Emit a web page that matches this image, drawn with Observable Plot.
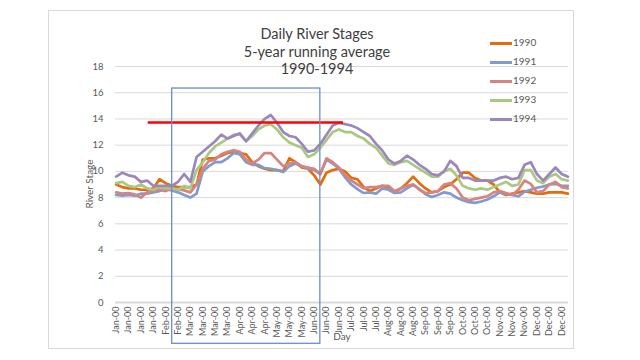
<!DOCTYPE html>
<html>
<head>
<meta charset="utf-8">
<script src="https://cdn.jsdelivr.net/npm/d3@7"></script>
<script src="https://cdn.jsdelivr.net/npm/@observablehq/plot@0.6"></script>
<style>
  html, body { margin: 0; padding: 0; background: #fff; }
  #wrap { position: relative; width: 640px; height: 360px; background: #fff; font-family: Lato, "Open Sans", sans-serif; color: #595959; }
  #border { position: absolute; left: 48px; top: 10px; width: 526px; height: 339px; border: 1px solid #d9d9d9; box-sizing: border-box; }
  #chart { position: absolute; left: 0; top: 0; }
  #title { position: absolute; left: 217px; top: 25px; width: 200px; text-align: center; font-size: 14.5px; line-height: 17.5px; color: #404040; }
  #legend { position: absolute; left: 490px; top: 34px; font-size: 10px; color: #595959; }
  .item { position: relative; height: 19px; }
  .sw { position: absolute; left: 0; top: 8px; width: 22px; height: 2.6px; }
  .lab { position: absolute; left: 23px; top: 2px; line-height: 12px; }
  #ytitle { position: absolute; left: 89px; top: 184px; transform: translate(-50%, -50%) rotate(-90deg); font-size: 10px; white-space: nowrap; }
  #xtitle { position: absolute; left: 342px; top: 336px; transform: translate(-50%, -50%); font-size: 10px; }
</style>
</head>
<body>
<div id="wrap">
  <div id="border"></div>
  <div id="chart"></div>
  <div id="title">Daily River Stages<br>5-year running average<br>1990-1994</div>
  <div id="legend"></div>
  <div id="ytitle">River Stage</div>
  <div id="xtitle">Day</div>
</div>
<script>
// ---- data ----
const days = [1,6,11,16,21,26,31,36,41,46,51,56,61,66,71,76,81,86,91,96,101,106,111,116,121,126,131,136,141,146,151,156,161,166,171,176,181,186,191,196,201,206,211,216,221,226,231,236,241,246,251,256,261,266,271,276,281,286,291,296,301,306,311,316,321,326,331,336,341,346,351,356,361,366];

const y1990 = [9.0,8.8,8.7,8.7,8.6,8.6,8.7,9.4,9.1,8.9,8.8,8.8,8.8,9.0,10.9,11.0,11.0,11.2,11.4,11.5,11.4,11.3,10.7,10.4,10.2,10.1,10.1,10.0,11.0,10.7,10.3,10.2,9.7,9.0,9.9,10.1,10.2,10.0,9.5,9.4,8.8,8.5,8.7,8.9,8.8,8.4,8.7,9.1,9.6,9.1,8.7,8.4,8.5,8.8,9.0,9.4,9.9,9.9,9.5,9.3,9.3,9.0,8.4,8.2,8.3,8.4,8.5,8.4,8.3,8.3,8.4,8.4,8.4,8.3];
const y1991 = [8.2,8.15,8.2,8.15,8.3,8.3,8.4,8.5,8.65,8.55,8.4,8.2,8.0,8.3,10.0,10.4,10.7,10.7,11.0,11.4,11.3,10.7,10.5,10.5,10.25,10.2,10.1,9.95,10.4,10.6,10.4,10.2,10.1,9.8,10.9,10.6,10.2,9.55,9.0,8.65,8.35,8.4,8.3,8.7,8.6,8.35,8.4,8.7,9.0,8.65,8.25,8.05,8.2,8.4,8.3,8.0,7.8,7.65,7.6,7.7,7.85,8.1,8.4,8.3,8.2,8.1,8.45,8.6,8.75,8.85,9.0,9.05,8.9,8.9];
const y1992 = [8.4,8.3,8.35,8.25,8.0,8.4,8.55,8.6,8.5,8.7,8.65,8.55,8.4,9.0,10.2,10.8,10.9,11.3,11.5,11.6,11.5,10.9,10.6,10.9,11.4,11.4,10.9,10.4,10.6,10.7,10.4,10.3,10.2,9.8,11.0,10.7,10.3,9.7,9.3,9.0,8.7,8.8,8.8,8.9,8.9,8.5,8.7,8.9,9.0,8.6,8.35,8.4,8.5,9.0,9.1,8.7,8.0,7.8,7.9,8.0,8.1,8.4,8.5,8.35,8.2,8.6,9.3,9.05,8.4,8.5,9.0,9.2,8.8,8.7];
const y1993 = [9.1,9.2,8.9,8.8,9.0,8.7,8.6,8.8,8.7,8.7,8.6,8.9,8.7,10.1,10.7,11.4,11.9,12.2,12.5,12.8,12.8,12.3,12.7,13.2,13.5,13.6,13.2,12.6,12.2,12.0,11.8,11.1,11.3,11.8,12.4,13.0,13.2,13.0,13.0,12.7,12.5,12.1,11.8,11.2,10.6,10.5,10.7,10.8,10.5,10.2,9.9,9.6,9.6,10.0,10.2,9.7,8.9,8.7,8.6,8.7,8.6,8.8,9.0,9.2,8.9,9.0,10.1,10.1,9.3,9.1,9.6,9.8,9.4,9.3];
const y1994 = [9.6,9.9,9.7,9.6,9.2,9.3,8.9,8.9,8.9,8.9,9.2,9.8,9.2,11.1,11.5,11.9,12.3,12.8,12.5,12.7,12.9,12.3,12.9,13.5,14.0,14.3,13.7,13.0,12.7,12.6,12.1,11.5,11.6,12.1,12.8,13.5,13.7,13.6,13.5,13.3,13.0,12.7,12.1,11.6,10.9,10.6,10.8,11.2,10.9,10.5,10.2,9.8,9.7,10.0,10.8,10.4,9.5,9.5,9.3,9.3,9.3,9.3,9.5,9.6,9.4,9.5,10.5,10.7,9.8,9.3,9.8,10.3,9.8,9.6];

const seriesNames = ["1990", "1991", "1992", "1993", "1994"];
const seriesValues = [y1990, y1991, y1992, y1993, y1994];
const seriesColors = ["#E46C0A", "#7F9BD0", "#D8837F", "#A9C882", "#9C87BC"];

const yTicks = [0, 2, 4, 6, 8, 10, 12, 14, 16, 18];
const xTickDays = [1,11,21,31,41,51,61,71,81,91,101,111,121,131,141,151,161,171,181,191,201,211,221,231,241,251,261,271,281,291,301,311,321,331,341,351,361];
const xTickLabels = ["Jan-00","Jan-00","Jan-00","Jan-00","Feb-00","Feb-00","Mar-00","Mar-00","Mar-00","Mar-00","Apr-00","Apr-00","Apr-00","May-00","May-00","May-00","Jun-00","Jun-00","Jun-00","Jul-00","Jul-00","Jul-00","Aug-00","Aug-00","Aug-00","Sep-00","Sep-00","Sep-00","Oct-00","Oct-00","Oct-00","Nov-00","Nov-00","Nov-00","Dec-00","Dec-00","Dec-00"];

// annotation: red reference line and highlight box (data units)
const redLine = [{level: 13.73, from: 26.9, to: 184.7}];
const highlightBox = [{x1: 46.3, x2: 166.0, y1: -3.15, y2: 16.32}];

// ---- build table ----
const rows = [];
seriesNames.forEach((name, s) => {
  days.forEach((d, i) => rows.push({series: name, day: d, value: seriesValues[s][i]}));
});

const chart = Plot.plot({
  width: 640,
  height: 360,
  marginLeft: 115,
  marginRight: 72,
  marginTop: 66,
  marginBottom: 58,
  style: {fontFamily: "Lato, 'Open Sans', sans-serif", color: "#595959", background: "transparent"},
  x: {domain: [0.5, 366.5]},
  y: {domain: [0, 18]},
  color: {domain: seriesNames, range: seriesColors},
  marks: [
    Plot.ruleY(yTicks, {stroke: "#d9d9d9", strokeWidth: 1}),
    Plot.ruleY([0], {stroke: "#d9d9d9", strokeWidth: 2}),
    Plot.axisY({ticks: yTicks, tickSize: 0, tickPadding: 12, fontSize: 9.5, label: null}),
    Plot.axisX({ticks: xTickDays, tickFormat: d => xTickLabels[xTickDays.indexOf(d)], tickRotate: -90, tickSize: 0, tickPadding: 4, fontSize: 9, label: null}),
    Plot.line(rows, {x: "day", y: "value", stroke: "series", z: "series", strokeWidth: 2.7, strokeLinejoin: "round"}),
    Plot.ruleY(redLine, {y: "level", x1: "from", x2: "to", stroke: "#FF0000", strokeWidth: 2.5}),
    Plot.rect(highlightBox, {x1: "x1", x2: "x2", y1: "y1", y2: "y2", fill: "none", stroke: "#6A8DD2", strokeWidth: 1.3, clip: false})
  ]
});
document.getElementById("chart").appendChild(chart);

// legend
const legend = document.getElementById("legend");
seriesNames.forEach((name, i) => {
  const item = document.createElement("div");
  item.className = "item";
  item.innerHTML = `<div class="sw" style="background:${seriesColors[i]}"></div><div class="lab">${name}</div>`;
  legend.appendChild(item);
});
</script>
</body>
</html>
